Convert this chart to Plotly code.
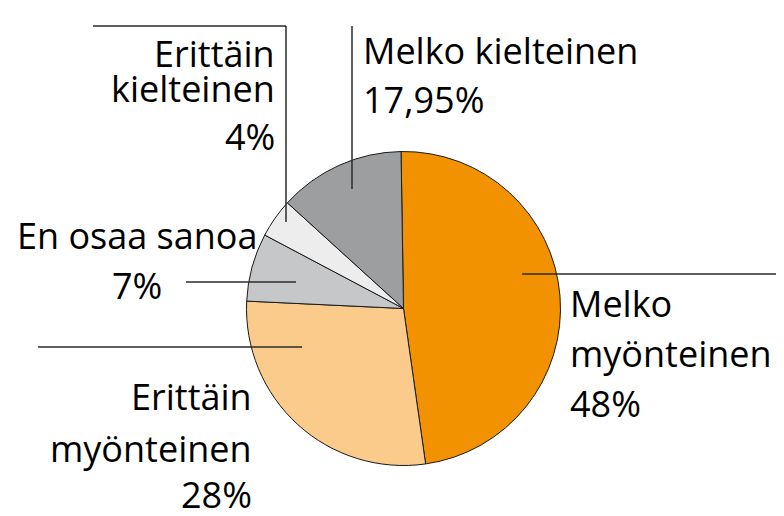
import plotly.graph_objects as go

# ---- data ----
categories = ["Melko myönteinen", "Erittäin myönteinen", "En osaa sanoa",
              "Erittäin kielteinen", "Melko kielteinen"]
slice_values = [48, 28, 7, 4, 13]          # slice sizes as drawn
pct_labels = ["48%", "28%", "7%", "4%", "17,95%"]  # label texts as printed
colors = ["#F39200", "#FACB8B", "#C6C7C8", "#ECEDEC", "#9D9E9F"]

W, H = 784, 516
OFF = 8  # page body margin offset


def px(x):
    return (x - OFF) / W


def py(y):
    return 1 - (y - OFF) / H


FONT = "Open Sans"
FS = 36

# layout of label lines: per category, (line texts, anchor, x, baselines, box heights)
label_layout = {
    "Melko myönteinen": (["Melko", "myönteinen"], "left", 568, [315, 365, 415], [None, None, None]),
    "Erittäin myönteinen": (["Erittäin", "myönteinen"], "right", 254, [408, 460, 506], [None, None, 34]),
    "En osaa sanoa": (["En osaa sanoa"], "center", 137, [247, 297], [None, None]),
    "Erittäin kielteinen": (["Erittäin", "kielteinen"], "right", 277, [65, 100, 148], [34, 34, None]),
    "Melko kielteinen": (["Melko kielteinen"], "left", 361, [62, 112], [None, None]),
}

leader_lines = {
    "Melko myönteinen": [(522, 274), (800, 274)],
    "Erittäin myönteinen": [(38, 347), (302, 347)],
    "En osaa sanoa": [(186, 282), (296, 282)],
    "Erittäin kielteinen": [(93, 26), (286, 26), (286, 222)],
    "Melko kielteinen": [(352, 26), (352, 189)],
}

cx, cy, r = 403.5, 308.5, 157

fig = go.Figure(go.Pie(
    labels=categories,
    values=slice_values,
    sort=False,
    direction="clockwise",
    rotation=-0.9,
    marker=dict(colors=colors, line=dict(color="#1a1a1a", width=1)),
    textinfo="none",
    hoverinfo="label+value",
    showlegend=False,
    domain=dict(x=[px(cx - r), px(cx + r)], y=[py(cy + r), py(cy - r)]),
))

annotations = []
for cat, pct in zip(categories, pct_labels):
    lines, anchor, x, baselines, heights = label_layout[cat]
    for text, base, h in zip(lines + [pct], baselines, heights):
        ann = dict(
            x=px(x), y=py(base - 12), xref="paper", yref="paper",
            text=text, showarrow=False, xanchor=anchor, yanchor="middle",
            font=dict(family=FONT, size=FS, color="#000000"),
        )
        if h is not None:
            ann["height"] = h
        annotations.append(ann)

shapes = []
for cat in categories:
    pts = leader_lines[cat]
    for (x0, y0), (x1, y1) in zip(pts[:-1], pts[1:]):
        shapes.append(dict(
            type="line", xref="paper", yref="paper",
            x0=px(x0), y0=py(y0), x1=px(x1), y1=py(y1),
            line=dict(color="#2b2b2b", width=1.5),
        ))

fig.update_layout(
    width=W, height=H,
    margin=dict(l=0, r=0, t=0, b=0),
    paper_bgcolor="white", plot_bgcolor="white",
    annotations=annotations, shapes=shapes,
)

fig.write_html("out.html")
